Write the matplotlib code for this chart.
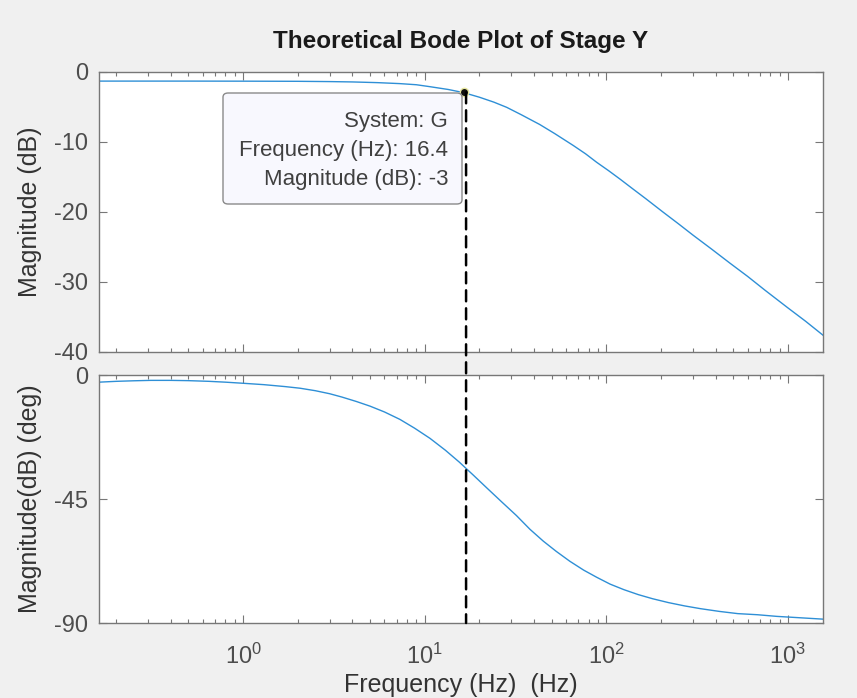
import numpy as np
import matplotlib.pyplot as plt
from matplotlib.patches import FancyBboxPatch, ConnectionPatch
from matplotlib.ticker import LogLocator, NullFormatter

# Magnitude response
mag_freq = [0.161, 0.5, 1.0, 2.0, 3.0, 4.0, 5.5, 7.3, 9.0, 10.7, 13.5, 16.4, 20, 24,
            28.3, 34, 43, 52, 65.8, 77, 88.5, 103, 119, 140, 165, 205, 250, 300, 380,
            479, 600, 750, 1000, 1250, 1560]
mag_db = [-1.30, -1.30, -1.31, -1.33, -1.37, -1.42, -1.52, -1.66, -1.82, -2.1, -2.5,
          -2.95, -3.6, -4.3, -5.05, -6.1, -7.5, -8.8, -10.5, -11.7, -12.9, -14.1,
          -15.3, -16.7, -18.1, -20.0, -21.7, -23.3, -25.3, -27.3, -29.2, -31.2,
          -33.7, -35.6, -37.6]

# Phase response
ph_freq = [0.161, 0.2, 0.25, 0.31, 0.4, 0.5, 0.65, 0.8, 1.0, 1.3, 1.7, 2.06, 2.5, 3.0,
           3.5, 4.2, 5.0, 6.0, 7.3, 8.8, 10.7, 13.0, 15.5, 18.5, 22, 26.5, 32, 38, 45,
           53, 63, 75, 88.5, 105, 125, 150, 180, 220, 270, 330, 420, 530, 680, 870,
           1100, 1560]
ph_deg = [-2.6, -2.3, -2.1, -1.95, -1.95, -2.05, -2.3, -2.6, -3.0, -3.5, -4.2, -4.8,
          -5.7, -6.8, -8.0, -9.6, -11.3, -13.4, -16.1, -19.3, -23.0, -27.3, -31.6,
          -36.3, -41.0, -46.0, -51.0, -56.0, -60.3, -64.0, -67.6, -70.8, -73.4,
          -75.9, -77.9, -79.7, -81.2, -82.6, -83.8, -84.8, -85.8, -86.6, -87.0,
          -87.6, -88.0, -88.6]

tip_freq = 16.4
tip_db = -2.9
cursor_freq = 16.9
mag_ticks = [0, -10, -20, -30, -40]
ph_ticks = [0, -45, -90]
tip_lines = ['System: G', 'Frequency (Hz): 16.4', 'Magnitude (dB): -3']

plt.rcParams['font.family'] = ['Liberation Sans', 'DejaVu Sans']
plt.rcParams['mathtext.fontset'] = 'custom'
plt.rcParams['mathtext.rm'] = 'Liberation Sans'
plt.rcParams['mathtext.it'] = 'Liberation Sans'

txt_color = '#4d4d4d'
spine_color = '#777777'
line_color = '#2e8fd6'

fig = plt.figure(figsize=(8.57, 6.98), dpi=100)
fig.patch.set_facecolor('#f0f0f0')

ax1 = fig.add_axes([99 / 857, 1 - 352 / 698, 724 / 857, 280 / 698])
ax2 = fig.add_axes([99 / 857, 1 - 623 / 698, 724 / 857, 248 / 698])

for ax in (ax1, ax2):
    ax.set_xscale('log')
    ax.set_xlim(0.161, 1560)
    ax.xaxis.set_major_locator(LogLocator(base=10))
    ax.xaxis.set_minor_locator(LogLocator(base=10, subs=np.arange(2, 10)))
    ax.xaxis.set_minor_formatter(NullFormatter())
    ax.tick_params(which='both', direction='in', top=True, right=True,
                   colors=spine_color, labelcolor=txt_color, labelsize=17)
    ax.tick_params(which='major', length=6, width=0.8)
    ax.tick_params(which='minor', length=3, width=0.8)
    ax.tick_params(axis='y', pad=8)
    for s in ax.spines.values():
        s.set_color(spine_color)
        s.set_linewidth(1.0)

ax1.plot(mag_freq, mag_db, color=line_color, lw=1.0)
ax1.set_ylim(-40, 0)
ax1.set_yticks(mag_ticks)
ax1.set_yticklabels([str(t) for t in mag_ticks])
ax1.tick_params(axis='x', labelbottom=False)
ax1.set_ylabel('Magnitude (dB)', fontsize=18, color='#333333')
ax1.yaxis.set_label_coords(-0.079, 0.5)
ax1.set_title('Theoretical Bode Plot of Stage Y', fontsize=17.5, fontweight='bold',
              color='#1a1a1a', pad=17)

ax2.plot(ph_freq, ph_deg, color=line_color, lw=1.0)
ax2.set_ylim(-90, 0)
ax2.set_yticks(ph_ticks)
ax2.set_yticklabels([str(t) for t in ph_ticks])
ax2.tick_params(axis='x', pad=15)
ax2.set_ylabel('Magnitude(dB) (deg)', fontsize=18, color='#333333')
ax2.yaxis.set_label_coords(-0.079, 0.5)
ax2.set_xlabel('Frequency (Hz)  (Hz)', fontsize=18, color='#333333')
ax2.xaxis.set_label_coords(0.5, -0.2)

# dashed cursor spanning both panels
con = ConnectionPatch(xyA=(cursor_freq, tip_db), coordsA=ax1.transData,
                      xyB=(cursor_freq, -90), coordsB=ax2.transData,
                      color='black', lw=1.8, linestyle=(0, (4.4, 2.8)), zorder=5)
fig.add_artist(con)

# data tip marker and box
ax1.plot([tip_freq], [tip_db], 'o', color='#111111', markersize=6,
         markeredgecolor='#e8e8a0', markeredgewidth=1, zorder=6, clip_on=False)

box = FancyBboxPatch((223 / 857, 1 - 204 / 698), 239 / 857, 111 / 698,
                     boxstyle='round,pad=0,rounding_size=0.006',
                     transform=fig.transFigure, facecolor='#f8f8fe',
                     edgecolor='#8a8a8a', lw=1.0, zorder=4)
fig.add_artist(box)
for i, s in enumerate(tip_lines):
    fig.text(448 / 857, 1 - (122 + 28.5 * i) / 698, s, ha='right', va='center',
             fontsize=16, color='#404040', zorder=6)

fig.savefig('out.png', dpi=100, facecolor=fig.get_facecolor())
